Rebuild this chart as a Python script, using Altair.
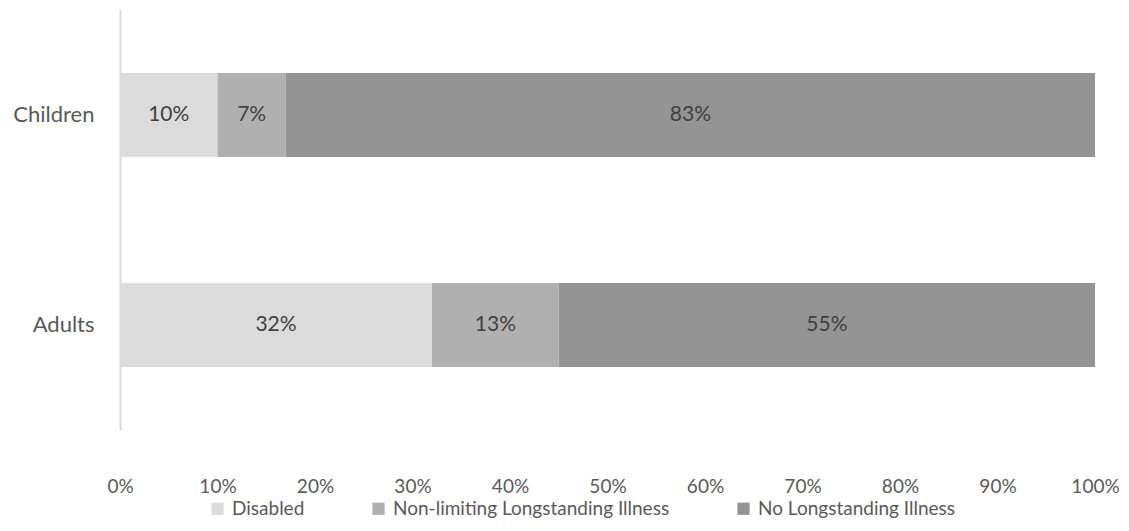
import altair as alt
import pandas as pd

groups = ["Children", "Adults"]
series = ["Disabled", "Non-limiting Longstanding Illness", "No Longstanding Illness"]
colors = ["#DBDBDB", "#B0B0B0", "#949494"]
disabled = [10, 32]
nonlimiting = [7, 13]
no_illness = [83, 55]
x_ticks = [0, 10, 20, 30, 40, 50, 60, 70, 80, 90, 100]

rows = []
for i, g in enumerate(groups):
    for j, (s, vals) in enumerate(zip(series, [disabled, nonlimiting, no_illness])):
        rows.append({"group": g, "series": s, "value": vals[i], "order": j})
df = pd.DataFrame(rows)

FONT = "Lato"
FS = 21
TXT = "#595959"

base = alt.Chart(df).transform_stack(
    stack="value", as_=["start", "end"], groupby=["group"], sort=[alt.SortField("order")]
).transform_calculate(mid="(datum.start + datum.end) / 2", label="datum.value + '%'")

yenc = alt.Y("group:N", sort=groups, title=None,
             scale=alt.Scale(paddingInner=0.6, paddingOuter=0.3),
             axis=alt.Axis(domain=True, domainColor="#D9D9D9", domainWidth=2, ticks=False,
                           labelFontSize=22, labelColor=TXT, labelFont=FONT, labelPadding=26))

bars = base.mark_bar().encode(
    x=alt.X("start:Q", scale=alt.Scale(domain=[0, 100], nice=False), title=None,
            axis=alt.Axis(values=x_ticks, labelExpr="datum.value + '%'", grid=False, domain=False,
                          ticks=False, labelFlush=False, labelFontSize=19, labelColor=TXT,
                          labelFont=FONT, labelPadding=47)),
    x2="end:Q",
    y=yenc,
    color=alt.Color("series:N", sort=series, scale=alt.Scale(domain=series, range=colors), title=None,
                    legend=alt.Legend(orient="none", legendX=88, legendY=489, direction="horizontal",
                                      symbolType="square", symbolSize=150, symbolStrokeWidth=0,
                                      labelFontSize=19, labelColor=TXT, labelFont=FONT,
                                      labelLimit=0, columnPadding=64, labelOffset=5)),
    order=alt.Order("order:Q"),
)

labels = base.mark_text(fontSize=FS, color="#404040", font=FONT).encode(
    x="mid:Q",
    y=alt.Y("group:N", sort=groups),
    text="label:N",
)

chart = (bars + labels).properties(
    width=975, height=420,
    autosize=alt.AutoSizeParams(type="none"),
    padding={"left": 112, "top": 2, "right": 26, "bottom": 93},
).configure_view(stroke=None)

chart.save("out.html", embed_options={"renderer": "svg", "actions": False})
